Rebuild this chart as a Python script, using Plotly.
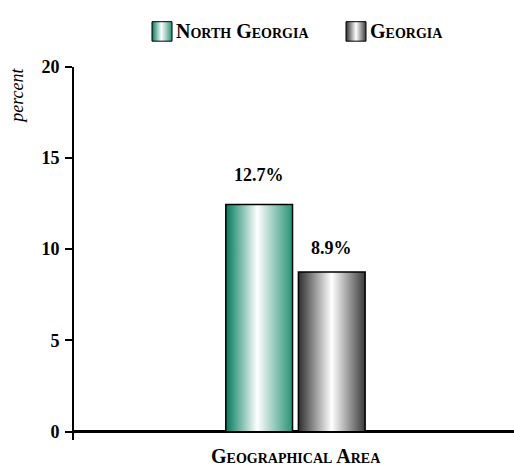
import plotly.graph_objects as go

W, H = 514, 467

# chart data
series = ["North Georgia", "Georgia"]
bar_heights = [12.45, 8.75]
bar_labels = ["12.7%", "8.9%"]
category = "Geographical Area"
y_ticks = [0, 5, 10, 15, 20]

# cylinder-style shading for each series
scales = [
    [[0, "#007a5a"], [0.47, "#ffffff"], [1, "#259474"]],
    [[0, "#2e2e2e"], [0.5, "#ffffff"], [1, "#3a3a3a"]],
]
label_shift = [29, 24]

serif = "Liberation Serif"
bar_w = 0.455
gap = 0.04

fig = go.Figure()

# bars as filled polygons so the gradient can be used
for i, (name, h) in enumerate(zip(series, bar_heights)):
    if i == 0:
        x0, x1 = -gap / 2 - bar_w, -gap / 2
    else:
        x0, x1 = gap / 2, gap / 2 + bar_w
    fig.add_trace(go.Scatter(
        x=[x0, x0, x1, x1, x0], y=[0, h, h, 0, 0],
        mode="lines", fill="toself", name=name,
        line=dict(color="black", width=1.5),
        fillgradient=dict(type="horizontal", colorscale=scales[i]),
        showlegend=False, hoverinfo="skip"))
    fig.add_annotation(x=(x0 + x1) / 2, y=h, text=bar_labels[i],
                       showarrow=False, yanchor="middle", yshift=label_shift[i],
                       font=dict(family=serif, size=18, color="black", weight="bold"))

# hand-made legend with gradient swatches, drawn on a pixel overlay axis
legend_x = [152, 346]
for i, name in enumerate(series):
    lx = legend_x[i]
    fig.add_trace(go.Scatter(
        x=[lx, lx, lx + 20, lx + 20, lx], y=[32, 12, 12, 32, 32],
        xaxis="x2", yaxis="y2", mode="lines", fill="toself",
        line=dict(color="black", width=1),
        fillgradient=dict(type="horizontal", colorscale=scales[i]),
        showlegend=False, hoverinfo="skip"))
    fig.add_annotation(x=(lx + 22) / W, y=1 - 22 / H, xref="paper", yref="paper",
                       text=name, showarrow=False, xanchor="left", yanchor="middle",
                       font=dict(family=serif, size=20, color="black",
                                 weight="bold", variant="small-caps"))

fig.add_annotation(x=296 / W, y=1 - 458 / H, xref="paper", yref="paper",
                   text=category, showarrow=False, xanchor="center", yanchor="middle",
                   font=dict(family=serif, size=20, color="black",
                             weight="bold", variant="small-caps"))
fig.add_annotation(x=17 / W, y=1 - 88 / H, xref="paper", yref="paper",
                   text="percent", showarrow=False, textangle=-90,
                   xanchor="center", yanchor="middle",
                   font=dict(family=serif, size=18, color="black", style="italic"))

fig.update_layout(
    width=W, height=H,
    margin=dict(l=0, r=0, t=0, b=0),
    paper_bgcolor="white", plot_bgcolor="rgba(0,0,0,0)",
    showlegend=False,
    xaxis=dict(domain=[74 / W, 1], range=[-1.51, 1.49], showgrid=False,
               zeroline=False, showline=False, showticklabels=False, ticks=""),
    yaxis=dict(domain=[26 / H, 1 - 58 / H], range=[-0.43, 20], tickvals=y_ticks,
               showgrid=False, showline=True, linecolor="black", linewidth=2,
               zeroline=True, zerolinecolor="black", zerolinewidth=2.5,
               ticks="outside", ticklen=7, tickwidth=2, tickcolor="black",
               ticklabelstandoff=2,
               tickfont=dict(family=serif, size=18, color="black", weight="bold")),
    yaxis3=dict(overlaying="y", anchor="x", range=[-0.43, 20], tickvals=y_ticks,
                showgrid=False, zeroline=False, showline=False, showticklabels=False,
                ticks="inside", ticklen=7, tickwidth=2, tickcolor="black"),
    xaxis2=dict(domain=[0, 1], range=[0, W], visible=False, anchor="y2"),
    yaxis2=dict(domain=[0, 1], range=[H, 0], visible=False, anchor="x2"),
)

fig.write_html("out.html", config={"displayModeBar": False},
               post_script="document.body.style.margin = '0';")
